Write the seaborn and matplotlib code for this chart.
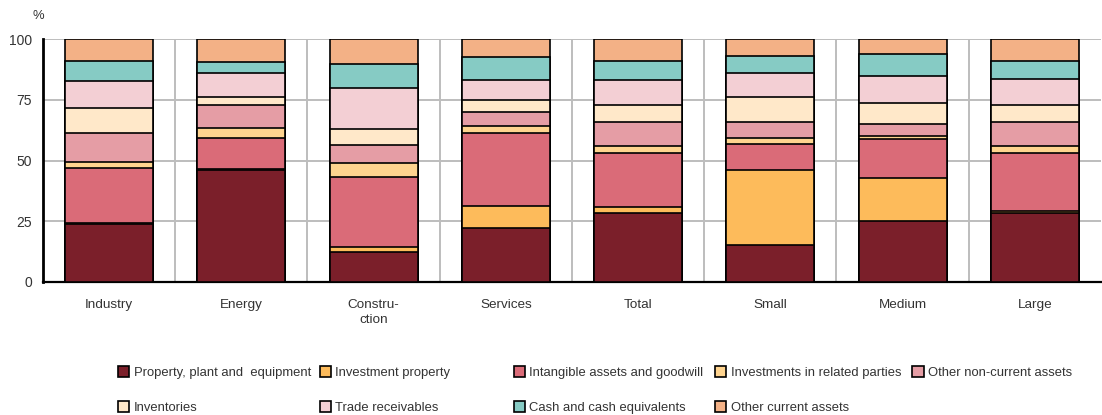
"""Stacked composition of balance-sheet assets by sector and firm size."""

import matplotlib

matplotlib.use("Agg")
import matplotlib.pyplot as plt
import numpy as np
import pandas as pd
import seaborn as sns
from matplotlib.patches import Patch

CATEGORIES = ["Industry", "Energy", "Construction", "Services",
              "Total", "Small", "Medium", "Large"]
TICK_LABELS = ["Industry", "Energy", "Constru-\nction", "Services",
               "Total", "Small", "Medium", "Large"]

ITEMS = [
    "Property, plant and  equipment",
    "Investment property",
    "Intangible assets and goodwill",
    "Investments in related parties",
    "Other non-current assets",
    "Inventories",
    "Trade receivables",
    "Cash and cash equivalents",
    "Other current assets",
]
COLORS = ["#7B1F2A", "#FDBB5B", "#DA6B78", "#FFD48F", "#E59DA5",
          "#FFE8C9", "#F3CFD4", "#86CBC4", "#F3B186"]

# % of total assets, per category in CATEGORIES order
ppe = [24.0, 46.1, 12.2, 22.2, 28.5, 15.2, 25.1, 28.5]
investment_property = [0.3, 0.2, 2.3, 9.1, 2.2, 30.9, 17.6, 0.7]
intangibles = [22.5, 13.1, 28.8, 30.1, 22.5, 10.6, 16.0, 24.0]
related_parties = [2.6, 3.8, 5.5, 2.8, 2.8, 2.7, 1.4, 2.8]
other_non_current = [12.0, 9.6, 7.7, 5.8, 9.7, 6.3, 4.9, 9.7]
inventories = [10.1, 3.5, 6.6, 4.9, 7.1, 10.6, 8.5, 7.0]
trade_receivables = [11.1, 9.8, 16.6, 8.2, 10.3, 9.8, 11.3, 10.7]
cash = [8.4, 4.3, 9.9, 9.4, 8.0, 7.0, 9.0, 7.7]
other_current = [9.0, 9.6, 10.4, 7.5, 8.9, 6.9, 6.2, 8.9]

SERIES = [ppe, investment_property, intangibles, related_parties,
          other_non_current, inventories, trade_receivables, cash,
          other_current]

FS = 9.4

sns.set_theme(style="white")
plt.rcParams["font.family"] = ["Liberation Sans", "DejaVu Sans"]
plt.rcParams["font.size"] = FS
plt.rcParams["text.color"] = "#222222"

fig = plt.figure(figsize=(11.02, 4.15), dpi=100)
ax = fig.add_axes([0.039, 0.3205, 0.96, 0.5855])

df = pd.DataFrame(np.array(SERIES).T, columns=ITEMS)
df["category"] = CATEGORIES
cum = df[ITEMS].cumsum(axis=1)

# draw cumulative totals from the top layer down so each layer overlays the next
for item, color in reversed(list(zip(ITEMS, COLORS))):
    sns.barplot(
        x=df["category"], y=cum[item], order=CATEGORIES, color=color,
        saturation=1, edgecolor="black", linewidth=1.2, width=0.665,
        errorbar=None, ax=ax, zorder=3,
    )

ax.set_xlim(-0.5, len(CATEGORIES) - 0.5)
ax.set_ylim(0, 100)
ax.set_yticks([0, 25, 50, 75, 100])
ax.set_xticks(range(len(CATEGORIES)))
ax.set_xticklabels(TICK_LABELS, multialignment="center", linespacing=1.25)
ax.set_xticks(np.arange(0.5, len(CATEGORIES) - 1), minor=True)
ax.set_xlabel("")
ax.set_ylabel("")

ax.grid(axis="y", which="major", color="#BDBDBD", linewidth=1.4, zorder=0)
ax.grid(axis="x", which="minor", color="#BDBDBD", linewidth=1.4, zorder=0)
ax.grid(axis="x", which="major", visible=False)
ax.set_axisbelow(True)

for side in ["top", "right"]:
    ax.spines[side].set_visible(False)
ax.spines["left"].set_linewidth(2)
ax.spines["bottom"].set_linewidth(1.6)
ax.spines["left"].set_color("black")
ax.spines["bottom"].set_color("black")

ax.tick_params(axis="y", direction="in", length=6, width=1.6, color="black",
               pad=8, labelsize=FS + 0.6, labelcolor="#333333")
ax.tick_params(axis="x", which="major", length=0, pad=12.5, labelsize=FS + 0.3,
               labelcolor="#333333")
ax.tick_params(axis="x", which="minor", direction="in", length=4, width=1.4,
               color="black")

fig.text(0.035, 0.962, "%", fontsize=FS, ha="center", va="center",
         color="#333333")

# legend: five fixed-width columns, two rows
handles = [Patch(facecolor=c, edgecolor="black", linewidth=1.2) for c in COLORS]
col_x = [0.107, 0.290, 0.466, 0.649, 0.828]
for col, x in enumerate(col_x):
    idx = [col, col + 5] if col + 5 < len(ITEMS) else [col]
    fig.legend(
        [handles[i] for i in idx], [ITEMS[i] for i in idx],
        loc="upper left", bbox_to_anchor=(x, 0.117), frameon=False,
        borderpad=0, borderaxespad=0, handlelength=0.85, handleheight=0.85,
        handletextpad=0.35, labelspacing=1.7, fontsize=FS,
        labelcolor="#333333",
    )

fig.savefig("out.png", dpi=100)
